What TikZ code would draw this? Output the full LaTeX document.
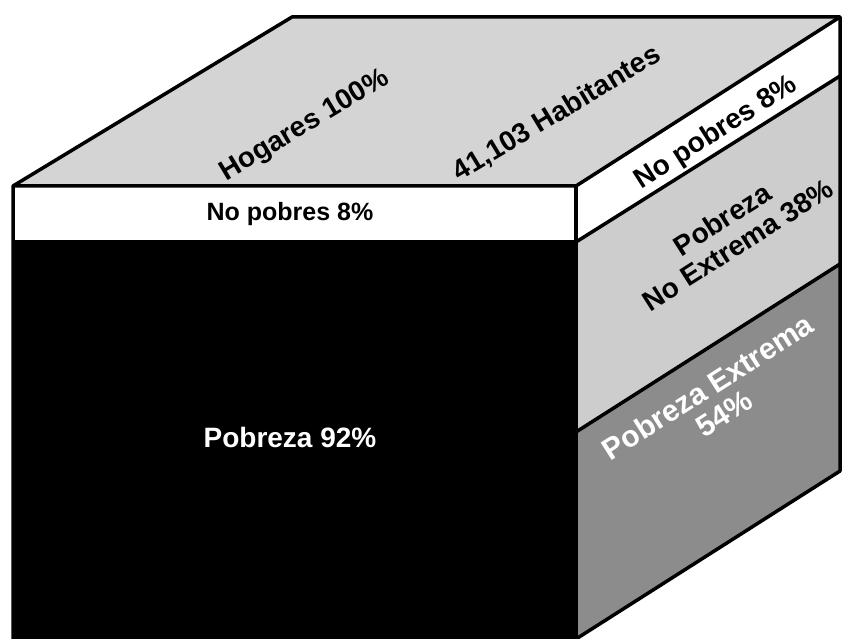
\documentclass[tikz,border=0pt]{standalone}
\usepackage{fontspec}
\setmainfont{Liberation Sans}

\definecolor{topgray}{RGB}{212,212,212}
\definecolor{lightband}{RGB}{205,205,205}
\definecolor{darkband}{RGB}{140,140,140}

\begin{document}
\begin{tikzpicture}[x=1pt, y=-1pt,
    edge/.style={line width=3.5pt, line join=round},
    lbl/.style={font=\bfseries\fontsize{25}{28}\selectfont, align=center, inner sep=0pt},
    big/.style={font=\bfseries\fontsize{28}{30}\selectfont}]
    \useasboundingbox (0,0) rectangle (844,639);
    % corners of the box
    \coordinate (A) at (13,186);
    \coordinate (B) at (576,186);
    \coordinate (C) at (840,17);
    \coordinate (D) at (292,17);
    \coordinate (E) at (576,639);
    \coordinate (F) at (840,471);
    \coordinate (G) at (13,639);
    % band limits
    \coordinate (P) at (13,242);
    \coordinate (Q) at (576,242);
    \coordinate (R) at (840,76);
    \coordinate (S) at (576,432);
    \coordinate (T) at (840,264);
    % faces
    \fill [topgray] (A) -- (B) -- (C) -- (D) -- cycle;
    \fill [white] (A) rectangle (Q);
    \fill [black] (P) rectangle (E);
    \fill [white] (B) -- (C) -- (R) -- (Q) -- cycle;
    \fill [lightband] (Q) -- (R) -- (T) -- (S) -- cycle;
    \fill [darkband] (S) -- (T) -- (F) -- (E) -- cycle;
    \draw [edge] (G) -- (A) -- (D) -- (C) -- (F) -- (E);
    \draw [edge] (A) -- (B) -- (C);
    \draw [edge] (B) -- (E);
    \draw [edge] (P) -- (Q) -- (R);
    \draw [edge] (S) -- (T);
    % labels
    \node [lbl, big] (hog) at (305,126) [rotate=31] {Hogares 100\%};
    \node [lbl, big] (hab) at (557,114) [rotate=31] {41,103 Habitantes};
    \node [lbl] (npf) at (290,214) {No pobres 8\%};
    \node [lbl, big, text=white] (pob) at (290,437) {Pobreza 92\%};
    \node [lbl, big] (npr) at (716,133) [rotate=32.5] {No pobres 8\%};
    \node [lbl, big] (pne) at (730,232) [rotate=32.5] {Pobreza\\No Extrema 38\%};
    \node [lbl, font=\bfseries\fontsize{30}{31}\selectfont, text=white] (pex) at (716,400) [rotate=32.5] {Pobreza Extrema\\54\%};
\end{tikzpicture}
\end{document}
